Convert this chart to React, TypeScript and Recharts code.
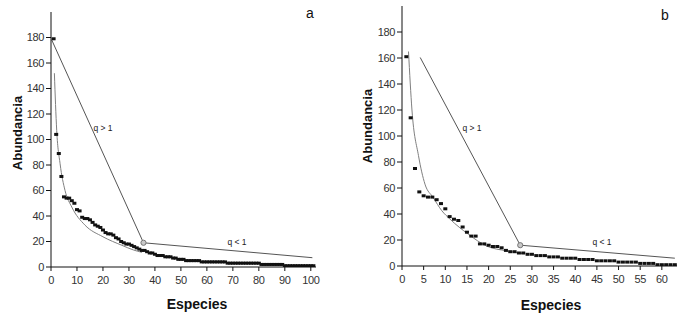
import React from "react";
import {
  ComposedChart,
  Scatter,
  Line,
  XAxis,
  YAxis,
} from "recharts";

// Panel a: abundance per species rank (rank = index + 1)
const abundanceA = [
  179, 104, 89, 71, 55, 54, 54, 52, 50, 45,
  44, 39, 38, 38, 37, 35, 33, 32, 31, 29,
  27, 26, 26, 25, 23, 22, 20, 19, 18, 18,
  17, 16, 15, 14, 13, 13, 12, 11, 11, 10,
  9, 9, 9, 8, 8, 8, 7, 7, 6, 6,
  6, 5, 5, 5, 5, 5, 5, 4, 4, 4,
  4, 4, 4, 4, 4, 4, 4, 3, 3, 3,
  3, 3, 3, 3, 3, 3, 3, 3, 3, 3,
  2, 2, 2, 2, 2, 2, 2, 2, 2, 1,
  1, 1, 1, 1, 1, 1, 1, 1, 1, 1,
  1,
];

// Panel b
const abundanceB = [
  161, 114, 75, 57, 54, 53, 53, 51, 48, 44,
  38, 36, 35, 30, 26, 23, 23, 17, 17, 16,
  15, 15, 14, 12, 11, 11, 10, 10, 9, 9,
  8, 8, 8, 7, 7, 7, 6, 6, 6, 6,
  5, 5, 5, 5, 4, 4, 4, 4, 4, 3,
  3, 3, 3, 3, 2, 2, 2, 2, 1, 1,
  1, 1, 1,
];

// fitted curves
const fitAx = [1.3, 2.2, 3.5, 5.4, 8, 13, 20, 27.3, 31.8, 35];
const fitAy = [152, 107, 81, 60, 47, 33, 23.7, 17, 13.3, 11.5];
const fitBx = [1.5, 2.3, 3.8, 5.3, 7.2, 9.2, 11.1, 15.3, 19.5, 24.2, 28];
const fitBy = [165, 120, 85, 63, 52.7, 42.5, 36, 24.5, 15.4, 11.6, 9.5];

// q > 1 / q < 1 segments with their break point
const qAx = [0.3, 35.6, 100.6];
const qAy = [178, 19, 7.3];
const qBx = [4.2, 27.3, 63];
const qBy = [160.4, 16, 6];

const yTicks = [0, 20, 40, 60, 80, 100, 120, 140, 160, 180];
const xTicksA = [0, 10, 20, 30, 40, 50, 60, 70, 80, 90, 100];
const xTicksB = [0, 5, 10, 15, 20, 25, 30, 35, 40, 45, 50, 55, 60];

const toPts = (xs: number[], ys: number[]) => xs.map((x, i) => ({ x, y: ys[i] }));
const ranked = (vals: number[]) => vals.map((y, i) => ({ x: i + 1, y }));

const FONT = "'Liberation Sans', Arial, sans-serif";
const tickStyle = { fontSize: 11, fill: "#333", fontFamily: FONT, letterSpacing: -0.4 };

const Dot = (props: any) => {
  const { cx, cy } = props;
  return <rect x={cx - 2} y={cy - 1.5} width={4} height={3} fill="#111" />;
};

const Knee = (props: any) => {
  const { cx, cy } = props;
  return <circle cx={cx} cy={cy} r={2.6} fill="#c8c8c8" stroke="#777" strokeWidth={1} />;
};

function Panel(props: {
  abund: number[];
  fitX: number[];
  fitY: number[];
  qx: number[];
  qy: number[];
  xMax: number;
  xTicks: number[];
  width: number;
  margin: { top: number; right: number; bottom: number; left: number };
  xHeight: number;
}) {
  const { abund, fitX, fitY, qx, qy, xMax, xTicks, width, margin, xHeight } = props;
  return (
    <ComposedChart width={width} height={318} margin={margin}>
      <XAxis
        type="number"
        dataKey="x"
        domain={[0, xMax]}
        ticks={xTicks}
        interval={0}
        tick={tickStyle}
        tickSize={4}
        tickMargin={5}
        height={xHeight}
        stroke="#111"
        allowDataOverflow
      />
      <YAxis
        type="number"
        dataKey="y"
        domain={[0, 200]}
        ticks={yTicks}
        interval={0}
        tick={tickStyle}
        tickSize={5}
        tickMargin={2}
        width={40}
        stroke="#111"
        allowDataOverflow
      />
      <Line
        data={toPts(qx, qy)}
        dataKey="y"
        type="linear"
        stroke="#555"
        strokeWidth={1}
        dot={false}
        isAnimationActive={false}
      />
      <Scatter
        data={ranked(abund)}
        dataKey="y"
        shape={Dot}
        isAnimationActive={false}
      />
      <Line
        data={toPts(fitX, fitY)}
        dataKey="y"
        type="monotone"
        stroke="#808080"
        strokeWidth={1}
        dot={false}
        isAnimationActive={false}
      />
      <Scatter
        data={[{ x: qx[1], y: qy[1] }]}
        dataKey="y"
        shape={Knee}
        isAnimationActive={false}
      />
    </ComposedChart>
  );
}

export default function App() {
  return (
    <div
      style={{
        position: "absolute",
        left: 0,
        top: 0,
        width: 681,
        height: 318,
        background: "#fff",
        overflow: "hidden",
      }}
    >
      <div style={{ position: "absolute", left: 0, top: 0 }}>
        <Panel
          abund={abundanceA}
          fitX={fitAx}
          fitY={fitAy}
          qx={qAx}
          qy={qAy}
          xMax={102}
          xTicks={xTicksA}
          width={340}
          margin={{ top: 12, right: 24, bottom: 0, left: 11 }}
          xHeight={51}
        />
      </div>
      <div style={{ position: "absolute", left: 340, top: 0 }}>
        <Panel
          abund={abundanceB}
          fitX={fitBx}
          fitY={fitBy}
          qx={qBx}
          qy={qBy}
          xMax={63.5}
          xTicks={xTicksB}
          width={341}
          margin={{ top: 6, right: 4, bottom: 0, left: 22 }}
          xHeight={52}
        />
      </div>
      <svg
        width={681}
        height={318}
        style={{ position: "absolute", left: 0, top: 0, pointerEvents: "none" }}
        fontFamily={FONT}
      >
        <text x={197} y={309} textAnchor="middle" fontSize={14} fontWeight="bold" fill="#111">
          Especies
        </text>
        <text x={551} y={310} textAnchor="middle" fontSize={14} fontWeight="bold" fill="#111">
          Especies
        </text>
        <text
          transform="translate(22,133) rotate(-90)"
          textAnchor="middle"
          fontSize={13}
          fontWeight="bold"
          fill="#111"
        >
          Abundancia
        </text>
        <text
          transform="translate(372,126) rotate(-90)"
          textAnchor="middle"
          fontSize={13}
          fontWeight="bold"
          fill="#111"
        >
          Abundancia
        </text>
        <text x={310} y={18} textAnchor="middle" fontSize={14} fill="#111">a</text>
        <text x={665} y={20} textAnchor="middle" fontSize={14} fill="#111">b</text>
        <text x={103} y={131} textAnchor="middle" fontSize={8.5} fill="#222">q &gt; 1</text>
        <text x={237} y={245} textAnchor="middle" fontSize={8.5} fill="#222">q &lt; 1</text>
        <text x={472} y={131} textAnchor="middle" fontSize={8.5} fill="#222">q &gt; 1</text>
        <text x={602} y={245} textAnchor="middle" fontSize={8.5} fill="#222">q &lt; 1</text>
      </svg>
    </div>
  );
}
